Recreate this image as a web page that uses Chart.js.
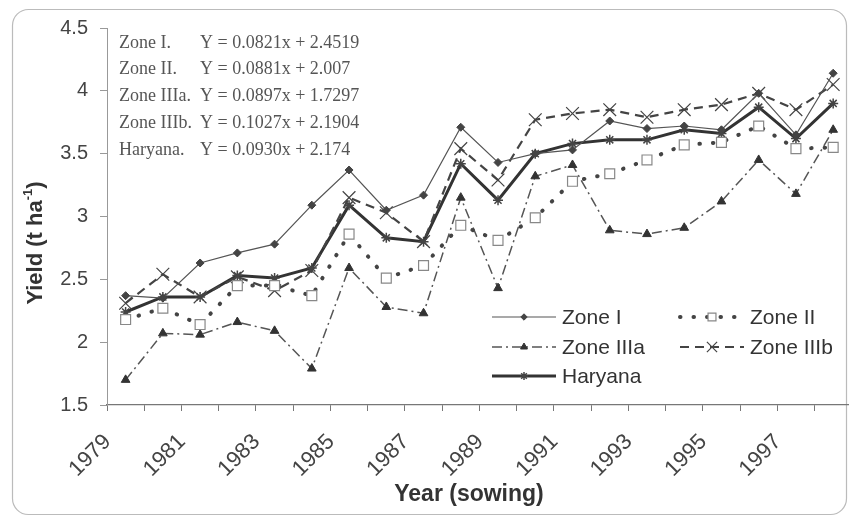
<!DOCTYPE html>
<html>
<head>
<meta charset="utf-8">
<script src="https://cdn.jsdelivr.net/npm/chart.js@4/dist/chart.umd.min.js"></script>
<style>
	html, body { margin: 0; padding: 0; background: #fff; overflow: hidden; }
	#wrap { position: relative; width: 862px; height: 519px; }
</style>
</head>
<body>
<div id="wrap"><canvas id="chart"></canvas></div>
<script>
const years = ["1979", "1980", "1981", "1982", "1983", "1984", "1985", "1986", "1987", "1988",
	"1989", "1990", "1991", "1992", "1993", "1994", "1995", "1996", "1997", "1998"]
const zone1 = [2.37, 2.35, 2.63, 2.71, 2.78, 3.09, 3.37, 3.05, 3.17, 3.71, 3.43, 3.50, 3.53, 3.76, 3.70, 3.72, 3.69, 3.98, 3.65, 4.14]
const zone2 = [2.18, 2.27, 2.14, 2.45, 2.45, 2.37, 2.86, 2.51, 2.61, 2.93, 2.81, 2.99, 3.28, 3.34, 3.45, 3.57, 3.59, 3.72, 3.54, 3.55]
const zone3a = [1.70, 2.07, 2.06, 2.16, 2.09, 1.79, 2.59, 2.28, 2.23, 3.15, 2.43, 3.32, 3.41, 2.89, 2.86, 2.91, 3.12, 3.45, 3.18, 3.69]
const zone3b = [2.31, 2.54, 2.36, 2.52, 2.41, 2.57, 3.15, 3.03, 2.80, 3.54, 3.29, 3.77, 3.82, 3.85, 3.79, 3.85, 3.89, 3.98, 3.85, 4.05]
const haryana = [2.24, 2.36, 2.36, 2.53, 2.51, 2.59, 3.09, 2.83, 2.80, 3.42, 3.13, 3.50, 3.58, 3.61, 3.61, 3.69, 3.66, 3.87, 3.62, 3.90]

const equationNames = ["Zone I.", "Zone II.", "Zone IIIa.", "Zone IIIb.", "Haryana."]
const equations = ["Y = 0.0821x + 2.4519", "Y = 0.0881x + 2.007", "Y = 0.0897x + 1.7297",
	"Y = 0.1027x + 2.1904", "Y = 0.0930x + 2.174"]

const sans = "'Liberation Sans', Arial, sans-serif"
const serif = "'Liberation Serif', 'Times New Roman', serif"

const datasets = [
	{ label: "Zone I", data: zone1, borderColor: "#555", backgroundColor: "#444", borderWidth: 1.2,
		pointStyle: "rectRot", pointRadius: 4, pointBorderWidth: 1, pointBorderColor: "#444" },
	{ label: "Zone II", data: zone2, borderColor: "#444", backgroundColor: "#fff", borderWidth: 4,
		borderDash: [0.5, 13], borderCapStyle: "round",
		pointStyle: "rect", pointRadius: 7, pointBorderWidth: 1.2, pointBorderColor: "#888" },
	{ label: "Zone IIIa", data: zone3a, borderColor: "#555", backgroundColor: "#333", borderWidth: 1.5,
		borderDash: [10, 4, 2, 4],
		pointStyle: "triangle", pointRadius: 5, pointBorderWidth: 1, pointBorderColor: "#333" },
	{ label: "Zone IIIb", data: zone3b, borderColor: "#444", backgroundColor: "#444", borderWidth: 2.2,
		borderDash: [9, 6],
		pointStyle: "crossRot", pointRadius: 9, pointBorderWidth: 1.2, pointBorderColor: "#444" },
	{ label: "Haryana", data: haryana, borderColor: "#333", backgroundColor: "#333", borderWidth: 3,
		pointStyle: "star", pointRadius: 5, pointBorderWidth: 1.5, pointBorderColor: "#444" },
]

const decor = {
	id: "decor",
	beforeDraw(chart) {
		const ctx = chart.ctx
		ctx.save()
		ctx.fillStyle = "#fff"
		ctx.fillRect(0, 0, chart.width, chart.height)
		ctx.strokeStyle = "#bbb"
		ctx.lineWidth = 1.2
		ctx.beginPath()
		ctx.roundRect(12.5, 9.5, 834, 505, 16)
		ctx.stroke()
		ctx.restore()
	},
	afterDraw(chart) {
		const ctx = chart.ctx
		ctx.save()
		// regression equations
		ctx.font = "18px " + serif
		ctx.fillStyle = "#555"
		ctx.textBaseline = "middle"
		for (let i = 0; i < equations.length; i++) {
			const y = 43 + i * 26.7
			ctx.fillText(equationNames[i], 119, y)
			const w = ctx.measureText(equationNames[i] + " ").width
			ctx.fillText(equations[i], Math.max(200, 119 + w + 2), y)
		}
		// x axis title
		ctx.fillStyle = "#333"
		ctx.textAlign = "center"
		ctx.font = "bold 23px " + sans
		ctx.fillText("Year (sowing)", 469, 495)
		ctx.textAlign = "left"
		// y axis title with superscript
		ctx.translate(36, 243)
		ctx.rotate(-Math.PI / 2)
		const main = "Yield (t ha"
		ctx.font = "bold 22px " + sans
		const w1 = ctx.measureText(main).width
		ctx.font = "bold 13px " + sans
		const w2 = ctx.measureText("-1").width
		ctx.font = "bold 22px " + sans
		const w3 = ctx.measureText(")").width
		let x = -(w1 + w2 + w3) / 2
		ctx.fillText(main, x, 0)
		ctx.font = "bold 13px " + sans
		ctx.fillText("-1", x + w1, -8)
		ctx.font = "bold 22px " + sans
		ctx.fillText(")", x + w1 + w2, 0)
		ctx.restore()

		// legend: line sample with marker in the middle
		const slots = [[492, 317], [680, 317], [492, 347], [680, 347], [492, 376]]
		ctx.save()
		ctx.font = "21px " + sans
		ctx.textBaseline = "middle"
		chart.data.datasets.forEach((ds, i) => {
			const [sx, sy] = slots[i]
			ctx.strokeStyle = ds.borderColor
			ctx.lineWidth = ds.borderWidth
			ctx.lineCap = ds.borderCapStyle || "butt"
			ctx.setLineDash(ds.borderDash || [])
			ctx.beginPath()
			ctx.moveTo(sx, sy)
			ctx.lineTo(sx + 64, sy)
			ctx.stroke()
			ctx.setLineDash([])
			ctx.fillStyle = ds.backgroundColor
			ctx.strokeStyle = ds.pointBorderColor
			ctx.lineWidth = ds.pointBorderWidth
			Chart.helpers.drawPoint(ctx, { pointStyle: ds.pointStyle, radius: ds.pointRadius * 0.8,
				rotation: 0, borderWidth: ds.pointBorderWidth }, sx + 32, sy)
			ctx.fillStyle = "#333"
			ctx.fillText(ds.label, sx + 70, sy + 1)
		})
		ctx.restore()
	},
}

new Chart(document.getElementById("chart"), {
	type: "line",
	data: { labels: years, datasets: datasets },
	options: {
		responsive: true,
		maintainAspectRatio: false,
		animation: false,
		layout: { padding: { top: 28, right: 0, left: 0, bottom: 0 } },
		plugins: { legend: { display: false }, tooltip: { enabled: false } },
		elements: { line: { tension: 0 } },
		scales: {
			x: {
				offset: true,
				grid: { drawOnChartArea: false, offset: true, tickLength: 6, color: "#777" },
				border: { color: "#777", width: 1.2 },
				ticks: {
					autoSkip: false, minRotation: 45, maxRotation: 45, labelOffset: -18, padding: 18,
					color: "#444", font: { family: sans, size: 22 },
					callback: (v, i) => (i % 2 === 0 ? years[i] : ""),
				},
				afterFit: (s) => {
					s.height = 114
					s.paddingLeft = 0
					s.paddingRight = 0
				},
			},
			y: {
				min: 1.5, max: 4.5,
				grid: { drawOnChartArea: false, tickLength: 7, color: "#999" },
				border: { color: "#999", width: 1 },
				ticks: { stepSize: 0.5, padding: 12, color: "#444", font: { family: sans, size: 20 },
					callback: (v) => String(v) },
				afterFit: (s) => { s.width = 107 },
			},
		},
	},
	plugins: [decor],
})
</script>
</body>
</html>
